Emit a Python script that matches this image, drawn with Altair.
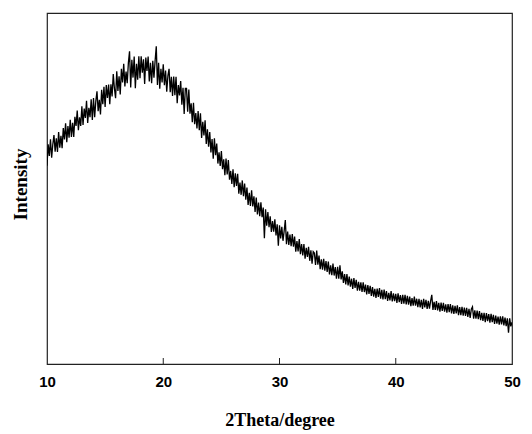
import altair as alt
import pandas as pd

# 2Theta from 10.0 to 50.0 in 0.1 steps (401 points), intensity (arb. units, 0..100)
theta_start = 10.0
theta_step = 0.1
intensity = [
    56.5, 62.6, 59.3, 64.0, 58.8, 62.6, 65.2, 60.5, 64.3, 60.4,   # 10
    66.1, 61.6, 65.0, 61.5, 67.2, 64.0, 68.6, 63.2, 67.8, 64.5,   # 11
    69.6, 64.7, 68.7, 64.7, 70.4, 67.8, 72.2, 66.6, 70.3, 67.8,   # 12
    73.4, 68.1, 72.8, 70.1, 75.0, 68.7, 73.0, 70.3, 75.4, 69.5,   # 13
    75.8, 70.3, 74.9, 77.7, 72.0, 75.3, 71.1, 78.1, 74.0, 79.0,   # 14
    73.2, 79.5, 75.8, 79.6, 74.0, 79.7, 76.2, 82.6, 78.5, 75.7,   # 15
    83.4, 77.8, 82.0, 76.8, 84.1, 80.2, 85.5, 79.1, 83.3, 80.0,   # 16
    85.8, 89.1, 78.8, 86.7, 81.6, 87.6, 78.6, 85.5, 81.0, 87.7,   # 17
    81.4, 87.7, 83.0, 86.8, 79.8, 87.3, 83.5, 87.6, 80.5, 85.8,   # 18
    80.0, 86.4, 81.6, 86.4, 90.5, 79.5, 85.8, 78.4, 84.1, 80.2,   # 19
    85.4, 79.4, 83.6, 77.6, 82.1, 84.1, 77.4, 81.8, 76.4, 81.9,   # 20
    76.6, 81.8, 74.3, 79.5, 76.5, 80.6, 73.9, 78.7, 71.2, 78.5,   # 21
    78.5, 71.9, 78.2, 71.3, 74.3, 68.9, 74.4, 68.3, 71.5, 67.1,   # 22
    72.1, 66.6, 71.4, 64.4, 69.0, 65.1, 69.4, 62.7, 66.9, 61.9,   # 23
    66.1, 60.3, 64.1, 58.5, 64.3, 59.5, 62.8, 57.1, 60.3, 56.4,   # 24
    60.7, 55.5, 58.3, 53.8, 58.5, 54.0, 58.1, 52.5, 55.0, 51.3,   # 25
    55.5, 50.4, 54.3, 50.7, 54.2, 48.5, 51.7, 48.2, 52.3, 47.8,   # 26
    51.4, 46.8, 50.3, 45.3, 48.8, 45.0, 49.5, 44.9, 47.8, 43.3,   # 27
    47.4, 42.6, 46.0, 42.1, 46.1, 41.8, 44.6, 35.8, 44.1, 39.4,   # 28
    43.3, 39.0, 42.1, 37.6, 40.7, 37.7, 41.2, 36.6, 39.8, 33.7,   # 29
    39.5, 35.8, 39.1, 35.1, 37.9, 41.0, 34.1, 37.7, 33.9, 36.9,   # 30
    33.6, 37.0, 33.4, 36.3, 32.0, 35.0, 32.1, 35.6, 31.3, 34.2,   # 31
    30.9, 34.2, 30.0, 33.1, 30.5, 33.4, 29.4, 32.4, 28.6, 32.0,   # 32
    31.6, 28.2, 32.3, 28.3, 30.9, 27.0, 29.8, 26.9, 30.0, 26.6,   # 33
    29.3, 26.2, 29.2, 25.5, 28.1, 25.3, 28.6, 25.2, 27.6, 24.3,   # 34
    27.7, 24.3, 28.1, 24.1, 26.4, 23.1, 25.6, 22.7, 25.6, 22.4,   # 35
    24.9, 22.0, 24.3, 21.4, 24.5, 21.7, 24.0, 20.9, 23.4, 20.9,   # 36
    23.3, 20.5, 23.3, 20.5, 22.6, 19.8, 22.5, 20.0, 22.3, 19.4,   # 37
    21.9, 19.2, 21.4, 18.8, 21.5, 19.1, 21.6, 18.6, 21.1, 18.4,   # 38
    21.2, 18.5, 20.8, 18.0, 20.3, 18.1, 20.8, 17.8, 20.1, 17.9,   # 39
    20.0, 17.4, 20.1, 17.6, 19.6, 17.1, 19.7, 17.2, 19.7, 17.0,   # 40
    19.4, 16.9, 19.2, 16.5, 18.8, 16.6, 19.2, 16.6, 18.6, 16.2,   # 41
    18.6, 16.1, 18.3, 15.7, 18.6, 16.1, 18.3, 15.7, 18.0, 15.8,   # 42
    18.0, 19.7, 15.4, 17.7, 15.4, 17.9, 15.3, 17.4, 14.9, 17.5,   # 43
    15.1, 17.4, 14.9, 17.0, 14.6, 17.1, 14.8, 17.1, 14.4, 16.7,   # 44
    14.3, 16.6, 14.4, 16.7, 13.9, 16.2, 13.9, 16.3, 13.8, 16.1,   # 45
    13.7, 16.0, 13.4, 15.7, 13.1, 15.6, 16.3, 12.9, 15.3, 12.9,   # 46
    15.2, 12.8, 15.1, 12.5, 14.6, 12.3, 14.6, 11.9, 14.5, 12.2,   # 47
    14.2, 11.8, 14.3, 11.9, 14.0, 11.4, 13.8, 11.5, 13.5, 11.2,   # 48
    13.6, 11.3, 13.6, 11.0, 13.2, 10.8, 13.0, 8.9, 13.0, 10.7,    # 49
    11.9,                                                         # 50
]
theta = [round(theta_start + i * theta_step, 1) for i in range(len(intensity))]

x_ticks = [10, 20, 30, 40, 50]
inner_ticks = [20, 30, 40]

df = pd.DataFrame({"theta": theta, "intensity": intensity})
df_ticks = pd.DataFrame({"t": inner_ticks})

x_scale = alt.Scale(domain=[10, 50], nice=False, zero=False)
y_scale = alt.Scale(domain=[0, 100], nice=False, zero=False)

line = alt.Chart(df).mark_line(color="black", strokeWidth=1.3, clip=True).encode(
    x=alt.X("theta:Q", scale=x_scale,
            axis=alt.Axis(values=x_ticks, format="d", title="2Theta/degree",
                          domain=False, ticks=False, tickSize=0, grid=False,
                          labelFont="Liberation Sans", labelFontWeight="bold",
                          labelFontSize=15, labelColor="black", labelPadding=22,
                          labelBaseline="alphabetic", labelFlush=False,
                          titleFont="Liberation Serif", titleFontWeight="bold",
                          titleFontSize=18, titleColor="black",
                          titleBaseline="alphabetic", titleY=61)),
    y=alt.Y("intensity:Q", scale=y_scale,
            axis=alt.Axis(labels=False, ticks=False, domain=False, grid=False,
                          title="Intensity",
                          titleFont="Liberation Serif", titleFontWeight="bold",
                          titleFontSize=19, titleColor="black",
                          titleAngle=270, titleBaseline="middle", titleAlign="center",
                          titleX=-27, titleY=171)),
)

ticks = alt.Chart(df_ticks).mark_rule(color="#222", strokeWidth=1).encode(
    x=alt.X("t:Q", scale=x_scale),
    y=alt.value(345),
    y2=alt.value(351),
)

chart = alt.layer(line, ticks).properties(
    width=465, height=351,
    padding={"left": 47, "top": 13, "right": 20, "bottom": 70},
    autosize=alt.AutoSizeParams(type="none"),
    background="white",
).configure_view(stroke="#222", strokeWidth=1.2)

chart.save("out.html", embed_options={"renderer": "svg", "actions": False})
